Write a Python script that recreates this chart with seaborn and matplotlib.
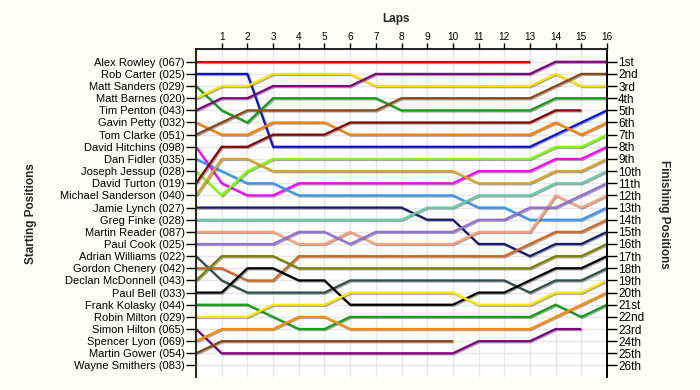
import numpy as np
import pandas as pd
import matplotlib
matplotlib.use("Agg")
import matplotlib.pyplot as plt
import matplotlib.patheffects as pe
import seaborn as sns

# Driver names in starting order (grid position 1..26)
drivers = [
    "Alex Rowley (067)", "Rob Carter (025)", "Matt Sanders (029)", "Matt Barnes (020)",
    "Tim Penton (043)", "Gavin Petty (032)", "Tom Clarke (051)", "David Hitchins (098)",
    "Dan Fidler (035)", "Joseph Jessup (028)", "David Turton (019)", "Michael Sanderson (040)",
    "Jamie Lynch (027)", "Greg Finke (028)", "Martin Reader (087)", "Paul Cook (025)",
    "Adrian Williams (022)", "Gordon Chenery (042)", "Declan McDonnell (043)", "Paul Bell (033)",
    "Frank Kolasky (044)", "Robin Milton (029)", "Simon Hilton (065)", "Spencer Lyon (069)",
    "Martin Gower (054)", "Wayne Smithers (083)",
]

finish_labels = ["1st", "2nd", "3rd", "4th", "5th", "6th", "7th", "8th", "9th", "10th",
                 "11th", "12th", "13th", "14th", "15th", "16th", "17th", "18th", "19th",
                 "20th", "21st", "22nd", "23rd", "24th", "25th", "26th"]

laps = list(range(0, 17))

# position of each driver at lap 0, 1, 2 ... (shorter list = retired)
pos_rowley = [1, 1, 1, 1, 1, 1, 1, 1, 1, 1, 1, 1, 1, 1]
pos_carter = [2, 2, 2, 8, 8, 8, 8, 8, 8, 8, 8, 8, 8, 8, 7, 6, 5]
pos_sanders = [3, 5, 6, 4, 4, 4, 4, 4, 5, 5, 5, 5, 5, 5, 4, 4, 4]
pos_barnes = [4, 3, 3, 2, 2, 2, 2, 3, 3, 3, 3, 3, 3, 3, 2, 3, 3]
pos_penton = [5, 4, 4, 3, 3, 3, 3, 2, 2, 2, 2, 2, 2, 2, 1, 1, 1]
pos_petty = [6, 7, 7, 6, 6, 6, 7, 7, 7, 7, 7, 7, 7, 7, 6, 7, 6]
pos_clarke = [7, 6, 5, 5, 5, 5, 5, 5, 4, 4, 4, 4, 4, 4, 3, 2, 2]
pos_hitchins = [8, 11, 12, 12, 11, 11, 11, 11, 11, 11, 11, 10, 10, 10, 9, 9, 8]
pos_fidler = [9, 10, 11, 11, 12, 12, 12, 12, 12, 12, 12, 13, 13, 14, 14, 14, 13]
pos_jessup = [10, 12, 10, 9, 9, 9, 9, 9, 9, 9, 9, 9, 9, 9, 8, 8, 7]
pos_turton = [11, 8, 8, 7, 7, 7, 6, 6, 6, 6, 6, 6, 6, 6, 5, 5]
pos_sanderson = [12, 9, 9, 10, 10, 10, 10, 10, 10, 10, 10, 11, 11, 11, 10, 10, 9]
pos_lynch = [13, 13, 13, 13, 13, 13, 13, 13, 13, 14, 14, 16, 16, 17, 16, 16, 15]
pos_finke = [14, 14, 14, 14, 14, 14, 14, 14, 14, 13, 13, 12, 12, 12, 11, 11, 10]
pos_reader = [15, 15, 15, 15, 16, 16, 15, 16, 16, 16, 16, 15, 15, 15, 12, 13, 12]
pos_cook = [16, 16, 16, 16, 15, 15, 16, 15, 15, 15, 15, 14, 14, 13, 13, 12, 11]
pos_williams = [17, 19, 20, 20, 20, 20, 19, 19, 19, 19, 19, 19, 19, 20, 19, 19, 18]
pos_chenery = [18, 18, 19, 19, 17, 17, 17, 17, 17, 17, 17, 17, 17, 16, 15, 15, 14]
pos_mcdonnell = [19, 17, 17, 17, 18, 18, 18, 18, 18, 18, 18, 18, 18, 18, 17, 17, 16]
pos_bell = [20, 20, 18, 18, 19, 19, 21, 21, 21, 21, 21, 20, 20, 19, 18, 18, 17]
pos_kolasky = [21, 21, 21, 22, 23, 23, 22, 22, 22, 22, 22, 22, 22, 22, 21, 22, 21]
pos_milton = [22, 22, 22, 21, 21, 21, 20, 20, 20, 20, 20, 21, 21, 21, 20, 20, 19]
pos_hilton = [23, 25, 25, 25, 25, 25, 25, 25, 25, 25, 25, 24, 24, 24, 23, 23]
pos_lyon = [24, 23, 23, 23, 22, 22, 23, 23, 23, 23, 23, 23, 23, 23, 22, 21, 20]
pos_gower = [25, 24, 24, 24, 24, 24, 24, 24, 24, 24, 24]
pos_smithers = []

colors = [
    "#E00000", "#0A14D2", "#14A014", "#FFE100", "#800080", "#FF8000", "#8B4A14", "#FF00FF",
    "#3399FF", "#80FF00", "#8B0000", "#DAA520", "#191970", "#66CDAA", "#FFA07A", "#9370DB",
    "#2F4F4F", "#D2691E", "#808000", "#000000", "#14A014", "#FFE600", "#800080", "#FF8C00",
    "#8B4513", "#808080",
]

all_pos = [pos_rowley, pos_carter, pos_sanders, pos_barnes, pos_penton, pos_petty, pos_clarke,
           pos_hitchins, pos_fidler, pos_jessup, pos_turton, pos_sanderson, pos_lynch, pos_finke,
           pos_reader, pos_cook, pos_williams, pos_chenery, pos_mcdonnell, pos_bell, pos_kolasky,
           pos_milton, pos_hilton, pos_lyon, pos_gower, pos_smithers]

rows = []
for name, pos in zip(drivers, all_pos):
    for lap, p in zip(laps, pos):
        rows.append({"driver": name, "lap": lap, "pos": p})
df = pd.DataFrame(rows)
palette = dict(zip(drivers, colors))

sns.set_style("white")
plt.rcParams['font.family'] = ['Liberation Sans', 'DejaVu Sans']

fig = plt.figure(figsize=(7, 3.9), dpi=100, facecolor="#FFFEF4")
ax = fig.add_axes([196 / 700, 1 - 377 / 390, 411 / 700, 328 / 390])
ax.set_facecolor("white")

sns.lineplot(data=df, x="lap", y="pos", hue="driver", hue_order=[d for d, p in zip(drivers, all_pos) if p],
             palette=palette, estimator=None, sort=False, legend=False, linewidth=1.6, ax=ax)

# drop shadow under each line
shadow = [pe.SimpleLineShadow(offset=(0.8, -0.8), shadow_color="#505050", alpha=0.5), pe.Normal()]
for ln in ax.lines:
    ln.set_path_effects(shadow)
    ln.set_solid_joinstyle("miter")
    ln.set_solid_capstyle("butt")

ax.set_xlim(0, 16)
ax.set_ylim(26.95, -0.05)

# grid
for x in range(1, 16):
    ax.axvline(x, color="#E6E6E6", lw=1, zorder=0)
for y in range(1, 27):
    ax.axhline(y, color="#E6E6E6", lw=1, zorder=0)

ax.xaxis.tick_top()
ax.xaxis.set_label_position("top")
ax.set_xticks(range(1, 17))
ax.set_xticklabels([str(i) for i in range(1, 17)], fontsize=7.2)
ax.tick_params(axis="x", direction="out", length=4, width=1, pad=1, colors="black")
ax.set_xlabel("")

ax.set_yticks(range(1, 27))
ax.set_yticklabels(drivers, fontsize=8)
ax.tick_params(axis="y", direction="out", length=7, width=1, pad=1, colors="black")
ax.set_ylabel("")

for s in ["left", "top", "right"]:
    ax.spines[s].set_color("black")
    ax.spines[s].set_linewidth(1.2)
ax.spines["bottom"].set_visible(False)

ax2 = ax.twinx()
ax2.set_ylim(ax.get_ylim())
ax2.set_yticks(range(1, 27))
ax2.set_yticklabels(finish_labels, fontsize=8.5)
ax2.tick_params(axis="y", direction="out", length=7, width=1, pad=1, colors="black")
ax2.spines["bottom"].set_visible(False)
ax2.spines["right"].set_linewidth(1.2)
ax2.spines["right"].set_color("black")

fig.text(396 / 700, 1 - 19 / 390, "Laps", ha="center", va="center", fontsize=8.5, fontweight="bold")
fig.text(31 / 700, 1 - 214 / 390, "Starting Positions", ha="center", va="center",
         rotation=90, fontsize=8.5, fontweight="bold")
fig.text(664 / 700, 1 - 214 / 390, "Finishing Positions", ha="center", va="center",
         rotation=270, fontsize=8.5, fontweight="bold")

fig.savefig("out.png", dpi=100, facecolor=fig.get_facecolor())
